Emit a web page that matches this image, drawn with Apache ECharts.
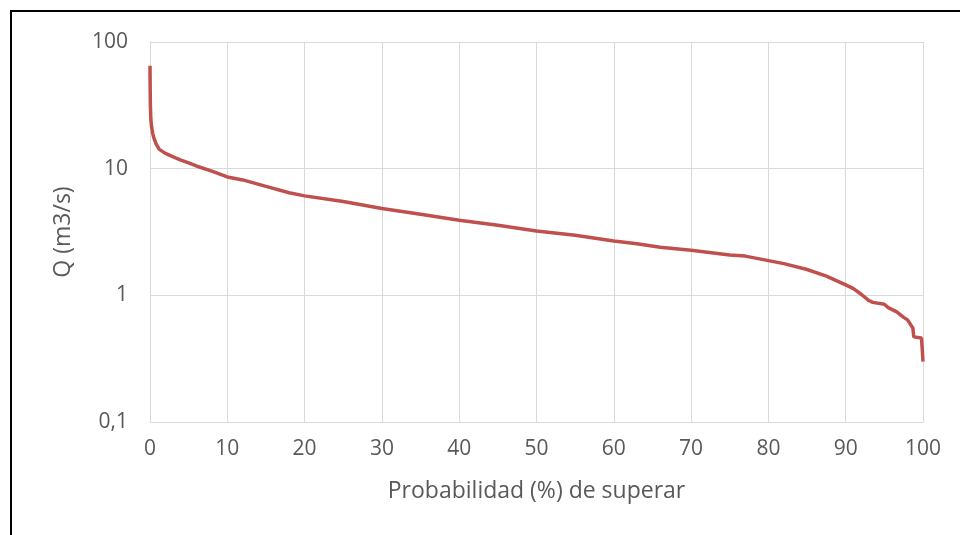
<!DOCTYPE html>
<html>
<head>
<meta charset="utf-8">
<script src="https://cdn.jsdelivr.net/npm/echarts@6/dist/echarts.min.js"></script>
<style>
  html, body { margin: 0; padding: 0; background: #fff; }
  #chart { position: absolute; left: 0; top: 0; width: 960px; height: 535px; }
  #frame { position: absolute; left: 10px; top: 10px; width: 960px; height: 535px;
           border-top: 2px solid #000; border-left: 2px solid #000; pointer-events: none; }
</style>
</head>
<body>
<div id="chart"></div>
<div id="frame"></div>
<script>
// Exceedance probability (%) and discharge Q (m3/s)
const probability = [0, 0.02, 0.05, 0.1, 0.2, 0.35, 0.5, 0.8, 1.2, 2, 3, 4, 5, 6, 8, 10, 12, 15, 18, 20,
  25, 30, 35, 40, 45, 50, 55, 60, 63, 66, 70, 75, 77, 80, 82, 85, 87.5, 90, 91, 92, 93, 93.5, 95, 95.5,
  96.6, 97.5, 98, 98.7, 98.8, 99.8, 99.9, 100];
const discharge = [65, 45, 32, 25, 21.5, 19, 17.5, 15.6, 14.2, 13.2, 12.4, 11.7, 11.1, 10.5, 9.55, 8.6, 8.15, 7.25, 6.45, 6.1,
  5.5, 4.85, 4.36, 3.92, 3.57, 3.22, 2.98, 2.69, 2.55, 2.4, 2.27, 2.08, 2.04, 1.88, 1.78, 1.6, 1.42, 1.21, 1.13, 1.02, 0.91, 0.88, 0.85, 0.8,
  0.74, 0.67, 0.64, 0.55, 0.47, 0.46, 0.38, 0.30];
const xTicks = { min: 0, max: 100, interval: 10 };
const yTicks = { min: 0.1, max: 100 };
const xTitle = 'Probabilidad (%) de superar';
const yTitle = 'Q (m3/s)';

const seriesData = probability.map((p, i) => [p, discharge[i]]);
const FONT = 'Open Sans';
const TXT = '#595959';

const chart = echarts.init(document.getElementById('chart'), null, { renderer: 'canvas' });
chart.setOption({
  animation: false,
  backgroundColor: '#fff',
  grid: { left: 150, right: 37, top: 42, bottom: 113 },
  xAxis: {
    type: 'value', min: xTicks.min, max: xTicks.max, interval: xTicks.interval,
    name: xTitle, nameLocation: 'middle', nameGap: 58,
    nameTextStyle: { fontFamily: FONT, fontSize: 23, color: TXT },
    axisLine: { show: true, lineStyle: { color: '#d9d9d9', width: 1 } },
    axisTick: { show: false },
    axisLabel: { fontFamily: FONT, fontSize: 21, color: TXT, margin: 17 },
    splitLine: { show: true, lineStyle: { color: '#d9d9d9', width: 1 } }
  },
  yAxis: {
    type: 'log', logBase: 10, min: yTicks.min, max: yTicks.max,
    name: yTitle, nameLocation: 'middle', nameGap: 75, nameRotate: 90,
    nameTextStyle: { fontFamily: FONT, fontSize: 23, color: TXT },
    axisLine: { show: true, lineStyle: { color: '#d9d9d9', width: 1 } },
    axisTick: { show: false },
    axisLabel: {
      fontFamily: FONT, fontSize: 21, color: TXT, margin: 22,
      formatter: v => String(parseFloat(Number(v).toPrecision(6))).replace('.', ',')
    },
    splitLine: { show: true, lineStyle: { color: '#d9d9d9', width: 1 } }
  },
  series: [{
    type: 'line',
    data: seriesData,
    showSymbol: false,
    smooth: false,
    lineStyle: { color: '#C0504D', width: 3.5 },
    itemStyle: { color: '#C0504D' }
  }]
});
</script>
</body>
</html>
